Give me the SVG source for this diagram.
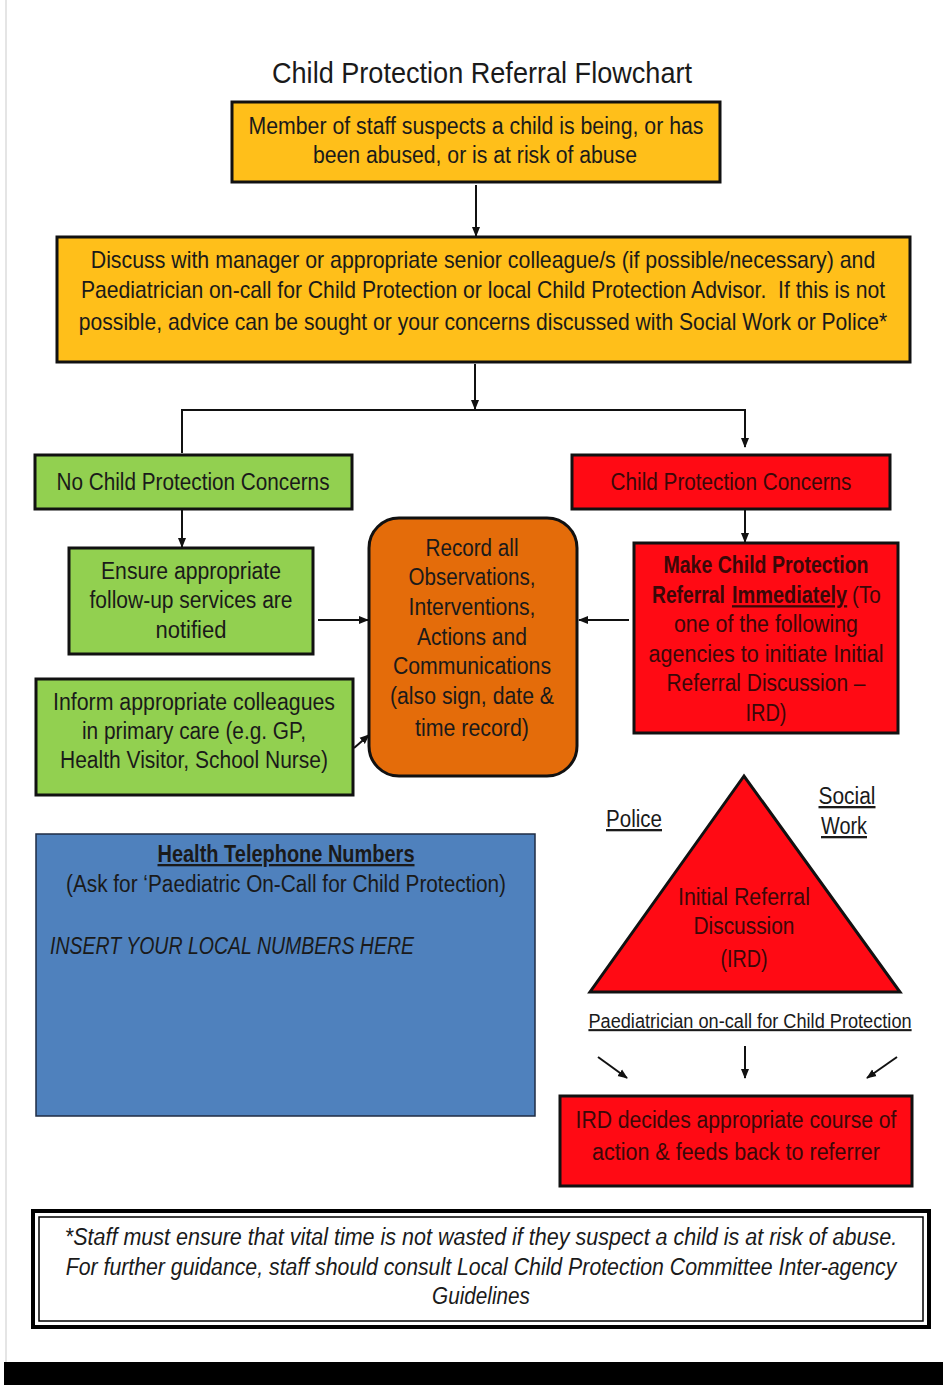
<svg xmlns="http://www.w3.org/2000/svg" width="943" height="1385" viewBox="0 0 943 1385">
<style>
text{font-family:"Liberation Sans","DejaVu Sans Condensed",sans-serif;text-anchor:middle;fill:#1a1a1a}
.t{font-size:23px}
.s{text-anchor:start}
.red text,.red{fill:#3a0808}
.box{stroke:#111;stroke-width:3}
.amber{fill:#FFBF1A}
.green{fill:#92D050}
.rd{fill:#FF0A14}
.or{fill:#E46C0A}
.blue{fill:#4F81BD;stroke:#1f2d44;stroke-width:1.5}
.con line,.con path{stroke:#111;stroke-width:2;fill:none}
</style>
<defs>
<marker id="ah" markerWidth="10" markerHeight="10" refX="9" refY="5" orient="auto" markerUnits="userSpaceOnUse">
<path d="M0,1 L10,5 L0,9 Z" fill="#111"/>
</marker>
</defs>
<rect width="943" height="1385" fill="#fff"/>
<line x1="6" y1="0" x2="6" y2="1362" stroke="#ddd" stroke-width="1.5"/>
<rect x="4" y="1362" width="939" height="23" fill="#000"/>

<text x="482" y="83" style="font-size:30px" textLength="420" lengthAdjust="spacingAndGlyphs">Child Protection Referral Flowchart</text>

<g id="n1">
<rect class="box amber" x="232" y="102" width="488" height="80"/>
<text class="t" x="476" y="134" textLength="455" lengthAdjust="spacingAndGlyphs">Member of staff suspects a child is being, or has</text>
<text class="t" x="475" y="163" textLength="324" lengthAdjust="spacingAndGlyphs">been abused, or is at risk of abuse</text>
</g>
<g id="n2">
<rect class="box amber" x="57" y="237" width="853" height="125"/>
<g transform="translate(483,0) scale(0.85,1)">
<text class="t" x="0" y="268" textLength="923" lengthAdjust="spacingAndGlyphs">Discuss with manager or appropriate senior colleague/s (if possible/necessary) and</text>
<text class="t" x="0" y="298" textLength="946" lengthAdjust="spacingAndGlyphs" xml:space="preserve">Paediatrician on-call for Child Protection or local Child Protection Advisor.  If this is not</text>
<text class="t" x="0" y="330" textLength="951" lengthAdjust="spacingAndGlyphs">possible, advice can be sought or your concerns discussed with Social Work or Police*</text>
</g>
</g>
<g id="n3">
<rect class="box green" x="35" y="455" width="317" height="54"/>
<text class="t" x="193" y="490" textLength="273" lengthAdjust="spacingAndGlyphs">No Child Protection Concerns</text>
</g>
<g id="n4" class="red">
<rect class="box rd" x="572" y="455" width="318" height="54"/>
<text class="t" x="731" y="490" textLength="241" lengthAdjust="spacingAndGlyphs">Child Protection Concerns</text>
</g>
<g id="n5">
<rect class="box green" x="69" y="548" width="244" height="106"/>
<text class="t" x="191" y="579" textLength="180" lengthAdjust="spacingAndGlyphs">Ensure appropriate</text>
<text class="t" x="191" y="608" textLength="203" lengthAdjust="spacingAndGlyphs">follow-up services are</text>
<text class="t" x="191" y="638" textLength="71" lengthAdjust="spacingAndGlyphs">notified</text>
</g>
<g id="n6">
<rect class="box green" x="36" y="679" width="317" height="116"/>
<text class="t" x="194" y="710" textLength="282" lengthAdjust="spacingAndGlyphs">Inform appropriate colleagues</text>
<text class="t" x="194" y="739" textLength="224" lengthAdjust="spacingAndGlyphs">in primary care (e.g. GP,</text>
<text class="t" x="194" y="768" textLength="268" lengthAdjust="spacingAndGlyphs">Health Visitor, School Nurse)</text>
</g>
<g id="n7">
<rect class="box or" x="369" y="518" width="208" height="258" rx="30"/>
<text class="t" x="472" y="556" textLength="93" lengthAdjust="spacingAndGlyphs">Record all</text>
<text class="t" x="472" y="585" textLength="127" lengthAdjust="spacingAndGlyphs">Observations,</text>
<text class="t" x="472" y="615" textLength="127" lengthAdjust="spacingAndGlyphs">Interventions,</text>
<text class="t" x="472" y="645" textLength="110" lengthAdjust="spacingAndGlyphs">Actions and</text>
<text class="t" x="472" y="674" textLength="158" lengthAdjust="spacingAndGlyphs">Communications</text>
<text class="t" x="472" y="704" textLength="164" lengthAdjust="spacingAndGlyphs">(also sign, date &amp;</text>
<text class="t" x="472" y="736" textLength="114" lengthAdjust="spacingAndGlyphs">time record)</text>
</g>
<g id="n8" class="red">
<rect class="box rd" x="634" y="543" width="264" height="190"/>
<text class="t" x="766" y="573" font-weight="bold" textLength="205" lengthAdjust="spacingAndGlyphs">Make Child Protection</text>
<g transform="translate(652,0) scale(0.8,1)">
<text class="t s" x="0" y="603" font-weight="bold" textLength="91" lengthAdjust="spacingAndGlyphs">Referral</text>
<text class="t s" x="100" y="603" font-weight="bold" text-decoration="underline" textLength="144" lengthAdjust="spacingAndGlyphs">Immediately</text>
<text class="t s" x="250" y="603" textLength="36" lengthAdjust="spacingAndGlyphs">(To</text>
</g>
<text class="t" x="766" y="632" textLength="184" lengthAdjust="spacingAndGlyphs">one of the following</text>
<text class="t" x="766" y="662" textLength="235" lengthAdjust="spacingAndGlyphs">agencies to initiate Initial</text>
<text class="t" x="766" y="691" textLength="199" lengthAdjust="spacingAndGlyphs">Referral Discussion –</text>
<text class="t" x="766" y="721" textLength="41" lengthAdjust="spacingAndGlyphs">IRD)</text>
</g>
<g id="n9" class="red">
<polygon class="box rd" points="744,776 590,992 900,992"/>
<text class="t" x="744" y="905" textLength="132" lengthAdjust="spacingAndGlyphs">Initial Referral</text>
<text class="t" x="744" y="934" textLength="101" lengthAdjust="spacingAndGlyphs">Discussion</text>
<text class="t" x="744" y="967" textLength="47" lengthAdjust="spacingAndGlyphs">(IRD)</text>
</g>
<g id="lbl-police"><text class="t" x="634" y="827" text-decoration="underline" textLength="56" lengthAdjust="spacingAndGlyphs">Police</text></g>
<g id="lbl-social"><text class="t" x="847" y="804" text-decoration="underline" textLength="57" lengthAdjust="spacingAndGlyphs">Social</text><text class="t" x="844" y="834" text-decoration="underline" textLength="46" lengthAdjust="spacingAndGlyphs">Work</text></g>
<g id="lbl-paed" transform="translate(750,0) scale(0.8,1)"><text class="t" x="0" y="1028" text-decoration="underline" style="font-size:21px" textLength="404" lengthAdjust="spacingAndGlyphs">Paediatrician on-call for Child Protection</text></g>
<g id="n10" class="red">
<rect class="box rd" x="560" y="1096" width="352" height="90"/>
<text class="t" x="736" y="1128" textLength="321" lengthAdjust="spacingAndGlyphs">IRD decides appropriate course of</text>
<text class="t" x="736" y="1160" textLength="288" lengthAdjust="spacingAndGlyphs">action &amp; feeds back to referrer</text>
</g>
<g id="n11">
<rect class="blue" x="36" y="834" width="499" height="282"/>
<text class="t" x="286" y="862" font-weight="bold" text-decoration="underline" textLength="257" lengthAdjust="spacingAndGlyphs">Health Telephone Numbers</text>
<text class="t" x="286" y="892" textLength="440" lengthAdjust="spacingAndGlyphs">(Ask for ‘Paediatric On-Call for Child Protection)</text>
<text class="t s" x="50" y="954" font-style="italic" textLength="364" lengthAdjust="spacingAndGlyphs">INSERT YOUR LOCAL NUMBERS HERE</text>
</g>
<g id="n12">
<rect x="33" y="1211" width="896" height="116" fill="#fff" stroke="#000" stroke-width="4"/>
<rect x="39" y="1217" width="884" height="104" fill="none" stroke="#000" stroke-width="1.5"/>
<g transform="translate(481,0) scale(0.82,1)">
<text class="t" x="0" y="1245" font-style="italic" textLength="1015" lengthAdjust="spacingAndGlyphs">*Staff must ensure that vital time is not wasted if they suspect a child is at risk of abuse.</text>
<text class="t" x="0" y="1275" font-style="italic" textLength="1013" lengthAdjust="spacingAndGlyphs">For further guidance, staff should consult Local Child Protection Committee Inter-agency</text>
</g>
<text class="t" x="481" y="1304" font-style="italic" textLength="98" lengthAdjust="spacingAndGlyphs">Guidelines</text>
</g>

<g id="connectors" class="con">
<line x1="476" y1="185" x2="476" y2="236" marker-end="url(#ah)"/>
<line x1="475" y1="364" x2="475" y2="409" marker-end="url(#ah)"/>
<path d="M182,453 V410 H745 V447" marker-end="url(#ah)"/>
<line x1="182" y1="510" x2="182" y2="547" marker-end="url(#ah)"/>
<line x1="318" y1="620" x2="368" y2="620" marker-end="url(#ah)"/>
<line x1="354" y1="748" x2="369" y2="735" marker-end="url(#ah)"/>
<line x1="629" y1="620" x2="579" y2="620" marker-end="url(#ah)"/>
<line x1="745" y1="510" x2="745" y2="542" marker-end="url(#ah)"/>
<line x1="598" y1="1057" x2="627" y2="1078" marker-end="url(#ah)"/>
<line x1="745" y1="1046" x2="745" y2="1078" marker-end="url(#ah)"/>
<line x1="897" y1="1057" x2="867" y2="1078" marker-end="url(#ah)"/>
</g>
</svg>
